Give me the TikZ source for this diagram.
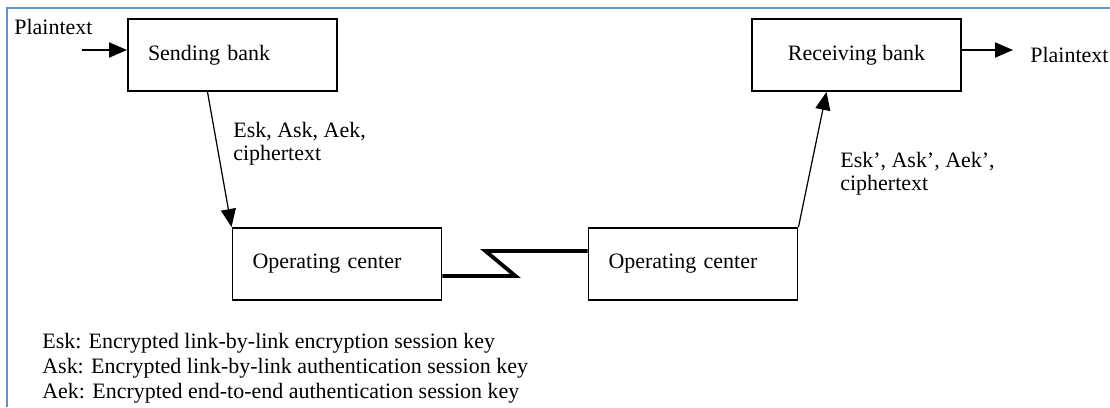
\documentclass[tikz,border=0pt]{standalone}
\usepackage{fontspec}
\setmainfont{Liberation Serif}
\usetikzlibrary{arrows.meta,positioning}
\definecolor{framebl}{RGB}{100,145,208}

\begin{document}
\begin{tikzpicture}[font=\fontsize{12.5}{13.1}\selectfont,
 bx/.style={draw,line width=1.1pt,minimum width=4.18cm,minimum height=1.44cm,inner sep=0pt},
 lbx/.style={bx,text width=3.38cm,align=left,inner xsep=0.4cm},
 arr/.style={-{Triangle[length=0.36cm,width=0.3cm]},line width=1.1pt},
 thin arr/.style={arr,line width=0.7pt}]
\useasboundingbox (0,0) rectangle (22.2,8.14);
\draw[framebl,line width=1.2pt] (0.14,0) -- (0.14,7.98) -- (22.2,7.98);
\node[lbx] (sb) at (4.65,7.04) {Sending bank};
\node[bx] (rb) at (17.13,7.04) {Receiving bank};
\node[lbx] (oc1) at (6.74,2.86) {Operating center};
\node[lbx] (oc2) at (13.86,2.86) {Operating center};
\node[anchor=base west,inner sep=0pt] (ptin) at (0.28,7.44) {Plaintext};
\node[anchor=base west,inner sep=0pt] (ptout) at (20.6,6.88) {Plaintext};
\coordinate (inA) at (1.64,7.14);
\coordinate (outB) at (20.26,7.14);
\draw[arr] (inA) -- ([yshift=0.1cm]sb.west);
\draw[arr] ([yshift=0.1cm]rb.east) -- (outB);
\draw[thin arr] ([xshift=-0.5cm]sb.south) -- (oc1.north west);
\draw[thin arr] (oc2.north east) -- ([xshift=-0.6cm]rb.south);
\draw[line width=2.2pt] ([yshift=-0.24cm]oc1.east) -- ++(1.46,0) -- ++(-0.6,0.5) -- ([yshift=0.26cm]oc2.west);
\node[anchor=north west,inner sep=0pt,align=left] (keys) at (4.66,5.7) {Esk, Ask, Aek,\\ciphertext};
\node[anchor=north west,inner sep=0pt,align=left] (keys2) at (16.8,5.1) {Esk', Ask', Aek',\\ciphertext};
\node[anchor=north west,inner sep=0pt,align=left,font=\fontsize{12.5}{14.2}\selectfont] (legend) at (0.84,1.48)
 {Esk: Encrypted link-by-link encryption session key\\Ask: Encrypted link-by-link authentication session key\\Aek: Encrypted end-to-end authentication session key};
\end{tikzpicture}
\end{document}
